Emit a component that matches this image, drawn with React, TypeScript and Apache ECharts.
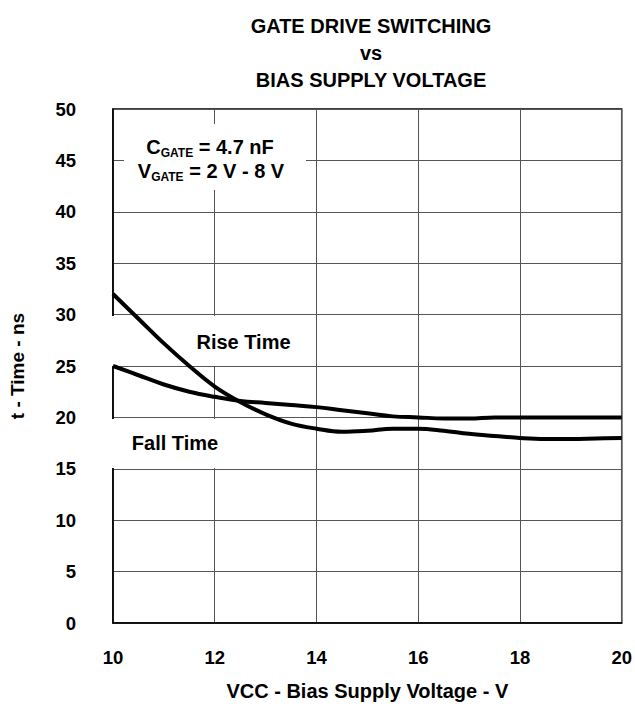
import React, { useEffect, useRef } from "react";
import * as echarts from "echarts";

const xValues = [10, 10.5, 11, 11.5, 12, 12.5, 13, 13.5, 14, 14.5, 15, 15.5, 16, 16.5, 17, 17.5, 18, 18.5, 19, 19.5, 20];
const riseTime = [32, 29.6, 27.2, 25, 23, 21.5, 20.3, 19.4, 18.9, 18.6, 18.7, 18.9, 18.9, 18.7, 18.4, 18.2, 18.0, 17.9, 17.9, 17.95, 18.0];
const fallTime = [25, 24.1, 23.2, 22.5, 22.0, 21.6, 21.4, 21.2, 21.0, 20.7, 20.4, 20.1, 20.0, 19.9, 19.9, 20.0, 20.0, 20.0, 20.0, 20.0, 20.0];
const titleLines = ["GATE DRIVE SWITCHING", "vs", "BIAS SUPPLY VOLTAGE"];

const FONT = "Liberation Sans, Arial, sans-serif";

export default function App() {
  const ref = useRef<HTMLDivElement>(null);
  useEffect(() => {
    if (!ref.current) return;
    const chart = echarts.init(ref.current, null, { renderer: "svg" });
    const pair = (ys: number[]) => xValues.map((x, i) => [x, ys[i]]);
    const rich = {
      b: { fontFamily: FONT, fontWeight: "bold", fontSize: 20, color: "#000" },
      s: { fontFamily: FONT, fontWeight: "bold", fontSize: 12, color: "#000", padding: [11, 0, 0, 0] },
    };
    chart.setOption({
      animation: false,
      backgroundColor: "#fff",
      title: {
        text: titleLines.join("\n"),
        left: 366,
        top: 7,
        textAlign: "center",
        textStyle: { fontFamily: FONT, fontWeight: "bold", fontSize: 20, lineHeight: 27, color: "#000" },
      },
      grid: { left: 110, right: 12, top: 109, bottom: 82, show: true, borderColor: "#000", borderWidth: 1.5 },
      xAxis: {
        type: "value",
        min: 10,
        max: 20,
        interval: 2,
        name: "VCC - Bias Supply Voltage - V",
        nameLocation: "middle",
        nameGap: 58,
        nameTextStyle: { fontFamily: FONT, fontWeight: "bold", fontSize: 20, color: "#000" },
        axisLine: { show: true, lineStyle: { color: "#000", width: 1.5 } },
        axisTick: { show: false },
        axisLabel: { margin: 25, fontFamily: FONT, fontWeight: "bold", fontSize: 18.5, color: "#000" },
        splitLine: { show: true, lineStyle: { color: "#555", width: 1 } },
      },
      yAxis: {
        type: "value",
        min: 0,
        max: 50,
        interval: 5,
        name: "t - Time - ns",
        nameLocation: "middle",
        nameGap: 86,
        nameTextStyle: { fontFamily: FONT, fontWeight: "bold", fontSize: 19, color: "#000" },
        axisLine: { show: true, lineStyle: { color: "#000", width: 1.5 } },
        axisTick: { show: false },
        axisLabel: { margin: 37, fontFamily: FONT, fontWeight: "bold", fontSize: 18.5, color: "#000" },
        splitLine: { show: true, lineStyle: { color: "#555", width: 1 } },
      },
      graphic: [
        { type: "rect", z: 1, shape: { x: 124, y: 124, width: 182, height: 66 }, style: { fill: "#fff" } },
        { type: "rect", z: 1, shape: { x: 111, y: 316, width: 192, height: 50 }, style: { fill: "#fff" } },
        { type: "rect", z: 1, shape: { x: 111, y: 419, width: 190, height: 49 }, style: { fill: "#fff" } },
        {
          type: "text",
          z: 3,
          x: 210,
          y: 147,
          style: { text: "{b|C}{s|GATE}{b| = 4.7 nF}", align: "center", verticalAlign: "middle", rich },
        },
        {
          type: "text",
          z: 3,
          x: 211,
          y: 171,
          style: { text: "{b|V}{s|GATE}{b| = 2 V - 8 V}", align: "center", verticalAlign: "middle", rich },
        },
        {
          type: "text",
          z: 3,
          x: 243.5,
          y: 342,
          style: { text: "Rise Time", align: "center", verticalAlign: "middle", fontFamily: FONT, fontWeight: "bold", fontSize: 20, fill: "#000" },
        },
        {
          type: "text",
          z: 3,
          x: 175,
          y: 443,
          style: { text: "Fall Time", align: "center", verticalAlign: "middle", fontFamily: FONT, fontWeight: "bold", fontSize: 20, fill: "#000" },
        },
      ],
      series: [
        {
          name: "Rise Time",
          type: "line",
          z: 5,
          data: pair(riseTime),
          smooth: 0.4,
          showSymbol: false,
          lineStyle: { color: "#000", width: 4 },
        },
        {
          name: "Fall Time",
          type: "line",
          z: 5,
          data: pair(fallTime),
          smooth: 0.4,
          showSymbol: false,
          lineStyle: { color: "#000", width: 4 },
        },
      ],
    });
    return () => chart.dispose();
  }, []);
  return <div ref={ref} style={{ position: "fixed", left: 0, top: 0, width: 635, height: 706 }} />;
}
